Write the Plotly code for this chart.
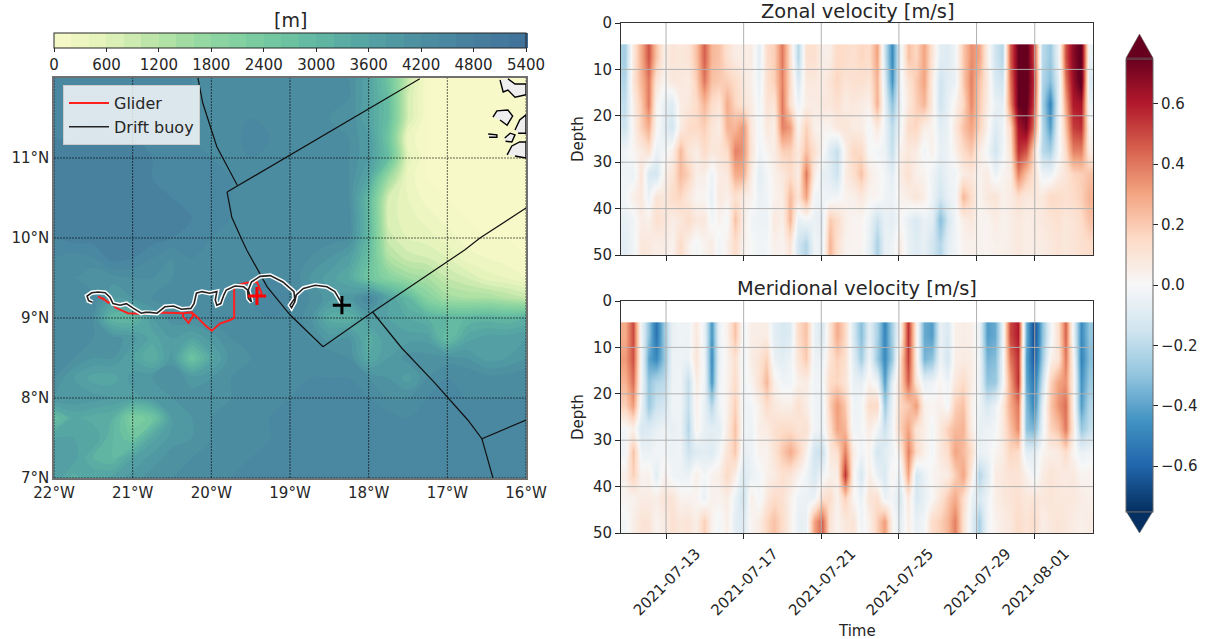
import numpy as np
import pandas as pd
import plotly.graph_objects as go

W, H = 1210, 639

# ---- velocity, cm/s; each line is one time column, from shallow to deep
depth_edges = [4.6, 10, 15, 20, 25, 30, 35, 40, 45, 50]
zonal_cols = [
[-25,-22,-18,-15,-3,-3,-2,-6,-8],[8,10,5,3,2,-5,5,-3,-3],[28,25,20,18,6,10,8,6,8],[48,40,40,28,12,-12,-5,4,8],
[22,10,3,2,-5,-14,10,12,5],[5,2,-6,-8,-2,4,8,10,6],[10,8,-10,-14,4,10,14,5,3],[8,8,6,6,24,24,16,8,14],
[10,6,8,14,10,18,8,14,4],[22,18,14,15,5,5,2,8,-2],[45,40,25,18,14,5,2,8,3],[25,22,14,10,8,-4,-6,-3,6],
[22,20,10,6,10,6,8,3,-3],[12,18,28,26,14,8,4,-2,4],[6,14,16,25,38,28,12,22,14],[5,8,10,34,34,28,6,6,3],
[6,4,6,8,10,6,3,-3,0],[-8,-5,-3,-2,-3,-8,-5,-4,-3],[14,12,10,8,2,-2,-3,-5,-2],[18,18,10,5,6,4,3,8,4],
[40,38,40,38,18,8,6,4,2],[12,14,12,32,18,14,24,26,10],[-22,-12,-4,2,8,6,10,-6,-14],[12,8,5,18,22,40,30,-3,-22],
[12,8,6,4,12,6,-3,-5,-3],[5,6,8,3,2,-6,-3,-8,-6],[5,10,8,3,-10,-8,-4,20,26],[15,16,12,8,-18,-16,-2,14,12],
[14,10,6,10,4,6,3,5,3],[12,12,8,6,16,12,4,2,2],[16,12,6,6,14,22,8,2,2],[14,10,4,-2,0,6,2,-4,-6],
[30,26,26,8,-2,2,2,-16,-24],[-15,-10,-6,-4,-4,-2,-3,-6,-6],[-48,-45,-30,-20,-18,-8,-5,-8,-4],[-5,-3,-5,-3,4,6,3,0,6],
[22,10,8,14,8,12,5,-6,-5],[16,20,18,16,6,4,10,-12,-10],[30,30,25,5,-3,3,5,-5,-6],[10,6,6,3,4,-4,-4,-8,-14],
[-8,-15,-15,-8,-6,-10,-14,-32,-22],[-10,-8,-6,-5,-4,-4,-6,-14,-8],[-3,-5,3,8,4,-3,-2,-3,-3],[20,20,15,22,14,6,25,5,3],
[35,38,36,30,20,8,14,8,4],[30,22,20,18,6,3,2,2,3],[5,8,6,3,-2,6,8,2,2],[-15,-12,-5,-10,-14,-4,10,6,4],
[-22,-15,-8,-4,-3,2,4,3,4],[45,40,35,15,10,5,6,5,5],[75,75,75,62,55,38,12,8,8],[80,80,78,70,48,22,8,5,5],
[50,55,50,40,15,12,8,6,6],[-20,-22,-24,-20,-20,-4,8,8,6],[-28,-32,-50,-42,-25,-5,15,10,8],[-5,-10,-8,-5,-3,5,14,12,10],
[48,40,30,22,14,10,12,8,8],[68,65,60,52,38,16,14,10,10],[78,80,62,55,38,18,18,14,12],[-4,-10,-4,2,6,22,26,22,14],
]
meridional_cols = [
[28,32,26,18,-2,-3,4,2,-2],[50,48,42,32,4,22,18,3,5],[-4,-2,-3,-5,-12,-4,2,6,10],[-30,-40,-30,-28,-10,-5,4,6,10],
[-55,-48,-22,-16,-6,-2,-8,5,3],[-28,-30,-20,-14,-3,-3,4,10,6],[-6,-4,-4,-3,-6,-4,-3,10,12],[-3,-4,-3,-3,-4,-3,-4,3,8],
[-4,-5,-18,-18,-22,-15,-5,3,10],[8,10,6,4,3,-10,5,2,5],[-5,-4,-3,-6,-6,-8,-2,-5,18],[-45,-48,-45,-22,-8,-10,3,4,3],
[-4,-5,-3,-3,-8,-2,5,3,-2],[4,3,3,4,6,10,15,6,5],[22,12,14,18,22,20,5,-5,-8],[-3,-4,-3,-4,-3,-6,-12,-16,-10],
[5,6,2,-2,-4,-4,-5,5,2],[5,10,12,4,5,3,-2,-2,6],[6,18,25,14,6,3,4,8,16],[-8,-5,4,8,12,10,6,14,22],
[-12,-8,-3,5,14,20,12,12,14],[-10,-4,-3,5,14,28,10,4,4],[14,10,4,12,10,18,3,-4,-6],[22,20,6,6,12,4,-3,-5,-5],
[-5,-4,-3,-3,-3,-14,-12,-5,30],[-12,-5,-2,-6,-4,-18,-3,12,45],[10,10,14,18,12,8,4,14,10],[28,18,16,32,30,12,5,3,3],
[15,12,10,20,25,38,55,18,8],[-12,-8,-5,-4,-3,6,3,2,10],[-32,-26,-6,-2,-2,-3,-12,-5,-3],[-8,-3,3,14,6,2,6,10,4],
[-24,-28,-4,15,-2,-14,-5,12,18],[-50,-48,-42,-28,-16,-8,-12,-5,32],[-25,-28,-8,-5,-3,-4,3,-2,3],[2,14,15,16,18,6,-6,-12,-8],
[55,52,45,20,30,38,30,8,5],[5,6,10,32,10,14,-14,-12,-6],[-38,-35,-6,4,5,4,-5,-6,-2],[-42,-30,-4,2,-2,-2,2,0,14],
[-6,-4,2,4,8,8,4,10,18],[-12,-14,-4,-2,18,14,6,20,25],[4,5,8,18,24,30,18,28,38],[5,6,14,22,26,24,30,14,12],
[4,5,6,4,6,14,8,-4,-6],[-4,-3,-3,-4,-6,-5,-22,-12,-25],[-42,-35,-30,-12,-4,-3,-10,-4,-3],[-38,-32,-28,-5,-2,2,6,5,3],
[-5,-3,-3,8,8,6,8,8,6],[50,40,30,28,22,16,10,10,8],[60,55,55,40,36,14,10,12,14],[-35,-40,-38,-32,-30,-8,4,8,10],
[-70,-65,-55,-50,-35,-8,-4,10,14],[-32,-28,-18,-8,-6,2,6,8,5],[-4,3,16,20,16,5,10,10,8],[12,10,30,34,22,6,8,8,10],
[45,40,34,42,40,14,6,8,8],[-4,3,5,5,8,2,8,8,6],[-48,-50,-45,-42,-28,-5,2,6,4],[-30,-32,-28,-22,-18,-3,3,4,6],
]
date_ticks = ["2021-07-13","2021-07-17","2021-07-21","2021-07-25","2021-07-29","2021-08-01"]
depth_ticks = [0,10,20,30,40,50]
vel_ticks = [-0.6,-0.4,-0.2,0.0,0.2,0.4,0.6]
vel_tick_text = ["\u22120.6","\u22120.4","\u22120.2","0.0","0.2","0.4","0.6"]

# ---- bathymetry, hundreds of metres; rows from 12N to 7N, columns from 22W to 16W
bathy_lon = [-22+0.25*i for i in range(25)]
bathy_lat = [12-0.25*i for i in range(21)]
bathy_rows = [
[45,45,45,45,45,45,45,44,44,44,44,44,44,43,43,42,36,26,10,0,0,0,0,0,0],
[46,46,46,45,45,45,45,44,44,44,44,44,43,43,43,42,36,28,8,0,0,0,0,0,0],
[46,46,46,46,45,45,45,44,44,43,44,44,44,43,42,42,36,28,8,0,0,0,0,0,0],
[46,46,47,46,46,46,45,44,44,43,45,44,44,43,43,42,38,26,3,0,0,0,0,0,0],
[47,47,47,47,47,46,45,45,44,44,44,44,44,44,44,42,38,28,5,0,0,0,0,0,0],
[47,47,48,48,47,46,46,45,45,44,44,44,44,44,43,42,35,16,3,0,0,0,0,0,0],
[47,48,48,48,48,47,46,45,45,44,44,44,44,44,43,42,30,8,4,1,0,0,0,0,0],
[47,48,48,48,48,48,47,46,45,44,44,44,44,44,43,43,30,7,5,3,1,0,0,0,0],
[46,47,47,48,48,47,46,45,44,44,44,44,44,43,43,42,30,9,6,5,3,1,0,0,0],
[44,43,44,47,46,44,42,44,44,44,44,43,43,42,40,37,28,13,9,8,6,3,2,1,0],
[42,42,40,41,42,42,42,43,44,44,44,44,44,40,37,34,26,20,16,14,10,8,5,4,2],
[43,44,43,38,40,42,43,43,44,44,44,45,44,42,39,39,44,36,30,20,15,14,14,12,10],
[44,44,42,30,30,38,41,42,43,44,44,44,44,41,33,32,38,36,34,32,30,30,31,30,32],
[44,44,42,41,39,35,38,36,39,42,44,44,44,42,39,40,33,38,37,37,28,35,37,37,38],
[43,42,40,40,36,32,39,26,35,41,42,44,44,44,44,42,34,38,41,41,41,40,37,38,40],
[42,38,35,35,39,40,42,39,40,42,44,44,44,44,44,44,42,40,37,42,44,44,43,43,44],
[40,40,39,38,37,39,40,41,41,42,44,44,44,45,45,45,44,42,42,44,45,44,44,44,44],
[28,34,33,32,22,25,38,40,42,43,44,44,45,46,46,46,45,45,44,45,45,45,45,45,45],
[36,36,36,30,26,35,39,40,42,43,44,44,45,46,46,46,46,46,45,45,46,46,46,46,46],
[38,37,32,30,36,39,41,42,43,44,44,45,45,46,46,46,46,46,45,46,46,46,46,46,46],
[38,33,36,37,39,41,42,43,44,44,45,45,45,46,46,46,45,45,46,46,46,46,46,46,46],
]
bathy_ticks = [0,600,1200,1800,2400,3000,3600,4200,4800,5400]
lon_ticks = [-22,-21,-20,-19,-18,-17,-16]
lat_ticks = [7,8,9,10,11]

# ---- tracks
glider_lon = [-21.44,-21.35,-21.38,-21.31,-21.29,-21.29,-21.22,-21.06,-20.82,-20.65,-20.36,-20.36,-20.29,-20.23,-20.25,-20.36,-20.25,-20.19,-20.08,-19.995,-19.89,-19.76,-19.71,-19.71,-19.55,-19.42,-19.36,-19.39]
glider_lat = [9.27,9.225,9.25,9.19,9.20,9.26,9.13,9.06,9.05,9.07,9.06,9.02,8.94,9.03,9.07,9.06,9.07,9.02,8.91,8.84,8.93,8.975,9.0,9.40,9.44,9.45,9.31,9.27]
buoy_lon = [-21.51,-21.56,-21.58,-21.52,-21.44,-21.35,-21.29,-21.25,-21.16,-21.08,-20.99,-20.89,-20.84,-20.78,-20.69,-20.59,-20.48,-20.38,-20.26,-20.22,-20.19,-20.12,-20.02,-19.93,-19.95,-19.93,-19.88,-19.86,-19.84,-19.81,-19.70,-19.59,-19.54,-19.53,-19.49,-19.53,-19.49,-19.38,-19.25,-19.09,-18.95,-18.94,-19.0,-18.98,-18.94,-18.92,-18.83,-18.68,-18.53,-18.43,-18.34]
buoy_lat = [9.196,9.216,9.275,9.316,9.325,9.316,9.26,9.18,9.16,9.18,9.12,9.06,9.07,9.07,9.06,9.14,9.15,9.11,9.12,9.18,9.31,9.33,9.31,9.33,9.225,9.16,9.18,9.245,9.29,9.35,9.40,9.39,9.35,9.245,9.20,9.35,9.45,9.52,9.53,9.45,9.33,9.245,9.16,9.13,9.20,9.29,9.37,9.41,9.39,9.33,9.18]
glider_end = (-19.42, 9.275)
buoy_end = (-18.34, 9.16)

# ---- maritime boundaries and islands
boundaries = [
 ([-20.17,-20.11,-19.93,-19.67],[12.0,11.69,11.14,10.66]),
 ([-19.80,-17.35],[10.575,11.99]),
 ([-19.80,-19.74,-19.61,-19.55,-19.29,-19.0,-18.58],[10.575,10.26,9.975,9.85,9.39,9.04,8.64]),
 ([-18.58,-17.95,-16.78,-16.585,-16.0],[8.64,9.075,9.85,10.0,10.375]),
 ([-17.95,-17.58,-17.16,-16.74,-16.56,-16.0],[9.075,8.625,8.19,7.725,7.49,7.725]),
 ([-16.56,-16.42],[7.49,7.0]),
]
islands = [
 ([-16.33,-16.29,-16.23,-16.14,-16,-16,-16.14,-16.23],[11.975,11.825,11.85,11.76,11.79,11.925,11.925,11.99]),
 ([-16.42,-16.37,-16.23,-16.17,-16.24,-16.33],[11.51,11.59,11.6,11.525,11.41,11.475]),
 ([-16.48,-16.37,-16.37,-16.47],[11.3,11.29,11.26,11.26]),
 ([-16.27,-16.2,-16.14,-16.18,-16.26],[11.25,11.31,11.29,11.2,11.21]),
 ([-16.24,-16.18,-16.08,-16,-16,-16.14],[11.04,11.15,11.2,11.2,11.0,11.025]),
 ([-16.14,-16.08,-16,-16,-16.1],[11.35,11.475,11.54,11.31,11.31]),
]

# ---- helpers and layout boxes (pixels of the page)
def fx(p): return p / W
def fy(p): return 1 - p / H

FONT = "DejaVu Sans"
INK = "#262626"
SIZE = 15
MAP = (54, 526, 78, 478)
ZON = (621, 1093, 23, 255)
MER = (621, 1093, 301, 533)

time_edges = pd.date_range("2021-07-10 16:20", "2021-08-04 00:00", periods=61).strftime("%Y-%m-%d %H:%M").tolist()
zonal = (np.array(zonal_cols).T / 100.0).tolist()
meridional = (np.array(meridional_cols).T / 100.0).tolist()

deep = [[0.0,"#f8f9c8"],[0.11,"#e3f3ba"],[0.22,"#b8e3a6"],[0.33,"#90d6a1"],[0.44,"#77cba0"],[0.55,"#62b8a2"],
        [0.66,"#55a4a4"],[0.77,"#4d90a2"],[0.88,"#47809e"],[1.0,"#41719a"]]

fig = go.Figure()

# --- map
fig.add_trace(go.Contour(
    x=bathy_lon, y=bathy_lat[::-1], z=(np.array(bathy_rows)[::-1] * 100).tolist(),
    colorscale=deep, zmin=0, zmax=5400, autocontour=False,
    contours=dict(start=0, end=5400, size=200, coloring="fill", showlines=False),
    line=dict(width=0), xaxis="x", yaxis="y", hoverinfo="skip",
    colorbar=dict(orientation="h", lenmode="pixels", len=472, thicknessmode="pixels", thickness=15,
                  x=fx(54), xanchor="left", y=fy(33), yanchor="top", xpad=0, ypad=0,
                  tickmode="array", tickvals=bathy_ticks, ticks="outside", ticklen=4, tickcolor=INK,
                  tickfont=dict(family=FONT, size=SIZE, color=INK), outlinecolor=INK, outlinewidth=1),
))
gx, gy = [], []
for lo in lon_ticks:
    gx += [lo, lo, None]; gy += [7, 12, None]
for la in lat_ticks:
    gx += [-22, -16, None]; gy += [la, la, None]
fig.add_trace(go.Scatter(x=gx, y=gy, mode="lines", showlegend=False, hoverinfo="skip", xaxis="x", yaxis="y",
                         line=dict(color="rgba(0,0,0,0.6)", width=1, dash="2px,1px")))
for bx, by in boundaries:
    fig.add_trace(go.Scatter(x=bx, y=by, mode="lines", showlegend=False, hoverinfo="skip", xaxis="x", yaxis="y",
                             line=dict(color="#111111", width=1.2)))
for ix, iy in islands:
    fig.add_trace(go.Scatter(x=ix, y=iy, mode="lines", fill="toself", fillcolor="#eeeeee", showlegend=False,
                             hoverinfo="skip", xaxis="x", yaxis="y", line=dict(color="#000000", width=1.4)))
fig.add_trace(go.Scatter(x=glider_lon, y=glider_lat, mode="lines", name="Glider", xaxis="x", yaxis="y",
                         line=dict(color="#ff2020", width=2)))
fig.add_trace(go.Scatter(x=buoy_lon, y=buoy_lat, mode="lines", showlegend=False, hoverinfo="skip", xaxis="x", yaxis="y",
                         line=dict(color="#ffffff", width=4.5)))
fig.add_trace(go.Scatter(x=buoy_lon, y=buoy_lat, mode="lines", name="Drift buoy", xaxis="x", yaxis="y",
                         line=dict(color="#222222", width=1.6)))
fig.add_trace(go.Scatter(x=[glider_end[0]], y=[glider_end[1]], mode="markers", showlegend=False, xaxis="x", yaxis="y",
                         marker=dict(symbol="cross-thin", size=13, line=dict(color="#ff0000", width=3))))
fig.add_trace(go.Scatter(x=[buoy_end[0]], y=[buoy_end[1]], mode="markers", showlegend=False, xaxis="x", yaxis="y",
                         marker=dict(symbol="cross-thin", size=13, line=dict(color="#000000", width=3))))

# --- velocity panels
for z, xa, ya, show in [(zonal, "x2", "y2", True), (meridional, "x3", "y3", False)]:
    fig.add_trace(go.Heatmap(
        x=time_edges, y=depth_edges, z=z, colorscale="RdBu_r", zmin=-0.75, zmax=0.75, xaxis=xa, yaxis=ya,
        showscale=show, zsmooth="best",
        colorbar=dict(lenmode="pixels", len=453, thicknessmode="pixels", thickness=27, x=fx(1126), xanchor="left",
                      y=fy(285), yanchor="middle", xpad=0, ypad=0, tickmode="array", tickvals=vel_ticks,
                      ticktext=vel_tick_text, ticks="outside", ticklen=5, tickcolor=INK,
                      tickfont=dict(family=FONT, size=SIZE, color=INK), outlinecolor="#666666", outlinewidth=1),
    ))

shapes = []
for xr, yr in [("x2", "y2"), ("x3", "y3")]:
    for d in date_ticks:
        shapes.append(dict(type="line", xref=xr, yref=yr, x0=d, x1=d, y0=0, y1=50, layer="above",
                           line=dict(color="#b0b0b0", width=1)))
    for d in depth_ticks[1:-1]:
        shapes.append(dict(type="line", xref=xr, yref=yr, x0=time_edges[0], x1=time_edges[-1], y0=d, y1=d, layer="above",
                           line=dict(color="#b0b0b0", width=1)))
# the colour bar's two end arrows
shapes.append(dict(type="path", xref="paper", yref="paper", fillcolor="#67001f", line=dict(color="#666666", width=0.6),
                   path=f"M {fx(1126)} {fy(58)} L {fx(1139.5)} {fy(34)} L {fx(1153)} {fy(58)} Z"))
shapes.append(dict(type="path", xref="paper", yref="paper", fillcolor="#053061", line=dict(color="#666666", width=0.6),
                   path=f"M {fx(1126)} {fy(511)} L {fx(1139.5)} {fy(533)} L {fx(1153)} {fy(511)} Z"))

def note(text, x, y, size=SIZE, angle=0):
    return dict(text=text, x=fx(x), y=fy(y), xref="paper", yref="paper", showarrow=False, textangle=angle,
                xanchor="center", yanchor="middle", font=dict(family=FONT, size=size, color=INK))

annotations = [
    note("[m]", 290, 20, 19),
    note("Zonal velocity [m/s]", 857, 11, 19.4),
    note("Meridional velocity [m/s]", 857, 288, 19.4),
    note("Depth", 578, 139, SIZE, -90),
    note("Depth", 578, 417, SIZE, -90),
    note("Time", 857, 631, SIZE),
]

tick_font = dict(family=FONT, size=SIZE, color=INK)
def time_axis(box, anchor, labels):
    return dict(domain=[fx(box[0]), fx(box[1])], anchor=anchor, type="date",
                range=[time_edges[0], time_edges[-1]], tickmode="array", tickvals=date_ticks,
                ticktext=date_ticks, showticklabels=labels, tickangle=-45, ticks="outside", ticklen=5,
                tickcolor=INK, tickfont=tick_font, showgrid=False, zeroline=False,
                showline=True, mirror=True, linecolor="#333333", linewidth=1, ticklabelshift=30 if labels else 0)
def depth_axis(box, anchor):
    return dict(domain=[fy(box[3]), fy(box[2])], anchor=anchor, range=[50, 0], tickmode="array", tickvals=depth_ticks,
                ticks="outside", ticklen=5, tickcolor=INK, tickfont=tick_font, showgrid=False, zeroline=False,
                showline=True, mirror=True, linecolor="#333333", linewidth=1)

fig.update_layout(
    width=W, height=H, margin=dict(l=0, r=0, t=0, b=0, autoexpand=False), paper_bgcolor="white", plot_bgcolor="white",
    font=dict(family=FONT, size=SIZE, color=INK),
    xaxis=dict(domain=[fx(MAP[0]), fx(MAP[1])], anchor="y", range=[-22, -16], tickmode="array", tickvals=lon_ticks,
               ticktext=[f"{abs(v)}\u00b0W" for v in lon_ticks], ticks="", tickfont=tick_font, showgrid=False,
               zeroline=False, showline=True, mirror=True, linecolor="#707070", linewidth=1.5),
    yaxis=dict(domain=[fy(MAP[3]), fy(MAP[2])], anchor="x", range=[7, 12], tickmode="array", tickvals=lat_ticks,
               ticktext=[f"{v}\u00b0N" for v in lat_ticks], ticks="", tickfont=tick_font, showgrid=False,
               zeroline=False, showline=True, mirror=True, linecolor="#707070", linewidth=1.5),
    xaxis2=time_axis(ZON, "y2", False), yaxis2=depth_axis(ZON, "x2"),
    xaxis3=time_axis(MER, "y3", True), yaxis3=depth_axis(MER, "x3"),
    legend=dict(x=fx(63), y=fy(85), xanchor="left", yanchor="top", bgcolor="rgba(255,255,255,0.8)",
                bordercolor="#cccccc", borderwidth=1, font=dict(family=FONT, size=16, color=INK), itemwidth=40),
    shapes=shapes, annotations=annotations,
)
fig.write_html("out.html", config=dict(displayModeBar=False), post_script="document.body.style.margin='0';")
